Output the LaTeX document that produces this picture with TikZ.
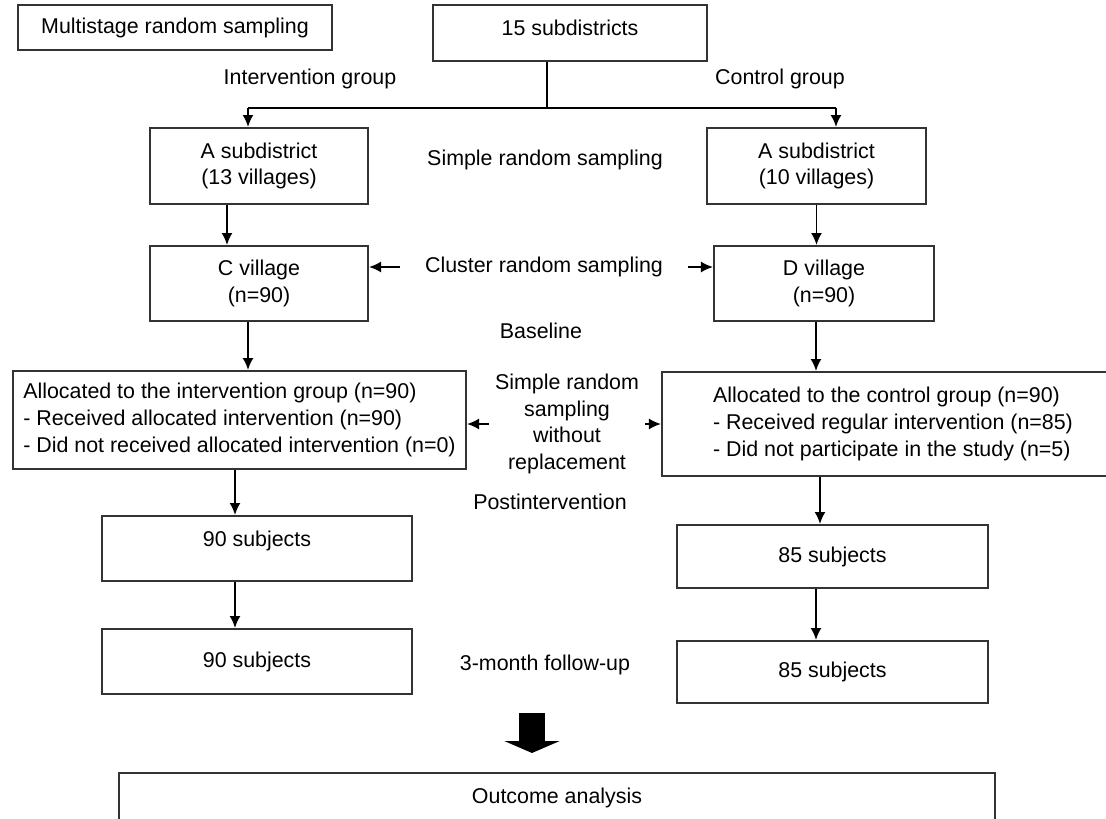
\documentclass[tikz,border=0pt]{standalone}
\usepackage{fontspec}
\setmainfont{Liberation Sans}
\usetikzlibrary{arrows.meta}
\tikzset{>={Latex[length=6bp,width=5.5bp]}}

\begin{document}
\begin{tikzpicture}[x=0.5bp, y=-0.5bp,
    every node/.style={font=\fontsize{10.7bp}{13.3bp}\selectfont},
    box/.style={draw=black!80, line width=1bp, inner sep=0pt, align=center},
    link/.style={->, line width=0.9bp}]
      \useasboundingbox (0,0) rectangle (1106,819);
      \clip (0,0) rectangle (1106,819);
      % top
      \node[box, minimum width=157bp, minimum height=22.5bp] (multi) at (175,27.5) {Multistage random sampling};
      \node[box, minimum width=137bp, minimum height=28bp, text depth=5bp] (sub15) at (570,33) {15 subdistricts};
      \node (ilbl) at (310,79) {Intervention group};
      \node (clbl) at (780,79) {Control group};
      \coordinate (split) at (547,108);
      \coordinate (brL) at (248,108);
      \coordinate (brR) at (836,108);
      % subdistricts and villages
      \node[box, minimum width=109bp, minimum height=38bp] (asubL) at (259,166) {A subdistrict\\(13 villages)};
      \node[box, minimum width=109.5bp, minimum height=38bp] (asubR) at (816.5,166) {A subdistrict\\(10 villages)};
      \node (srs) at (545,160) {Simple random sampling};
      \node[box, minimum width=109bp, minimum height=37.5bp] (cvil) at (259,283.5) {C village\\(n=90)};
      \node[box, minimum width=110bp, minimum height=37.5bp] (dvil) at (824,283.5) {D village\\(n=90)};
      \node[inner xsep=12.5bp] (crs) at (544,267) {Cluster random sampling};
      \node (base) at (541,331) {Baseline};
      % allocation
      \node[box, align=left, minimum width=226.5bp, minimum height=49bp] (aint) at (239.5,420)
        {Allocated to the intervention group (n=90)\\- Received allocated intervention (n=90)\\- Did not received allocated intervention (n=0)};
      \node[box, align=left, minimum width=231bp, minimum height=52bp] (actl) at (893,424)
        {Allocated to the control group (n=90)\\- Received regular intervention (n=85)\\- Did not participate in the study (n=5)};
      \node[align=center, inner xsep=3bp] (swr) at (567,424) {Simple random\\sampling\\without\\replacement};
      \node (post) at (550,502) {Postintervention};
      % subjects
      \node[box, minimum width=155bp, minimum height=32.5bp, text depth=10bp] (s1) at (257,548.5) {90 subjects};
      \node[box, minimum width=155.5bp, minimum height=31.5bp] (r1) at (832.5,556.5) {85 subjects};
      \node[box, minimum width=155bp, minimum height=32.5bp] (s2) at (257,661.5) {90 subjects};
      \node[box, minimum width=155.5bp, minimum height=31bp] (r2) at (832.5,672) {85 subjects};
      \node (fu) at (545,665) {3-month follow-up};
      \coordinate (thk1) at (532,713);
      \coordinate (thk2) at (532,753);
      \node[box, minimum width=438bp, minimum height=25bp] (out) at (557,798) {Outcome analysis};
      % connectors
      \draw[link,-] (sub15.south -| split) -- (split);
      \draw[link,-] (brL) -- (brR);
      \draw[link] (brL) -- (brL |- asubL.north);
      \draw[link] (brR) -- (brR |- asubR.north);
      \draw[link] ([xshift=-16bp]asubL.south) -- ([xshift=-16bp]asubL.south |- cvil.north);
      \draw[link] ([xshift=-5.5bp]cvil.south) -- ([xshift=-5.5bp]cvil.south |- aint.north);
      \draw[link] ([xshift=-2.25bp]aint.south) -- ([xshift=-2.25bp]aint.south |- s1.north);
      \draw[link] ([xshift=-11bp]s1.south) -- ([xshift=-11bp]s1.south |- s2.north);
      \draw[link] (asubR.south) -- (asubR.south |- dvil.north);
      \draw[link] ([xshift=-4bp]dvil.south) -- ([xshift=-4bp]dvil.south |- actl.north);
      \draw[link] ([xshift=-36.5bp]actl.south) -- ([xshift=-36.5bp]actl.south |- r1.north);
      \draw[link] ([xshift=-8.25bp]r1.south) -- ([xshift=-8.25bp]r1.south |- r2.north);
      \draw[link] (crs.west) -- (crs.west -| cvil.east);
      \draw[link] (crs.east) -- (crs.east -| dvil.west);
      \draw[link] (swr.west) -- (swr.west -| aint.east);
      \draw[link] (swr.east) -- (swr.east -| actl.west);
      \draw[line width=13bp, -{Triangle[length=6bp,width=27.5bp]}] (thk1) -- (thk2);
\end{tikzpicture}
\end{document}
